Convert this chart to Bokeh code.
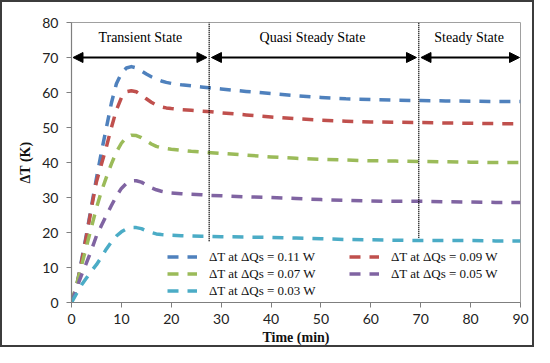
from bokeh.plotting import figure
from bokeh.models import (ColumnDataSource, Legend, LegendItem, Arrow, NormalHead,
                          Range1d, FixedTicker)
from bokeh.core.properties import value
from bokeh.embed import file_html
from bokeh.resources import INLINE

# ---------------- data ----------------
time_min = [0, 1, 2, 3, 4, 5, 6, 7, 8, 9, 10, 11, 12, 13, 14, 15, 16, 17, 18, 19, 20,
            22, 24, 26, 28, 30, 35, 40, 45, 50, 55, 60, 65, 70, 75, 80, 85, 90]

dT_q011 = [0, 4.5, 12, 19.5, 27.5, 35.5, 43, 50, 57, 62.5, 65.5, 67, 67.4, 67, 66.2, 65.3,
           64.5, 63.8, 63.3, 62.9, 62.6, 62.2, 61.9, 61.6, 61.3, 61.0, 60.3, 59.7, 59.1,
           58.6, 58.2, 58.0, 57.8, 57.7, 57.6, 57.5, 57.4, 57.4]
dT_q009 = [0, 4.3, 11.5, 19, 27, 34.5, 39.5, 44.5, 50, 55, 58.5, 60.2, 60.5, 60.2, 59.2,
           58.2, 57.2, 56.4, 55.9, 55.6, 55.4, 55.1, 54.9, 54.7, 54.5, 54.2, 53.6, 53.0,
           52.5, 52.1, 51.8, 51.6, 51.5, 51.4, 51.3, 51.2, 51.1, 51.1]
dT_q007 = [0, 5, 10.5, 16, 21.5, 27, 31.8, 35.8, 39.6, 43, 45.5, 47.2, 47.8, 47.7, 47.1,
           46.2, 45.3, 44.6, 44.2, 44.0, 43.8, 43.5, 43.2, 43.0, 42.8, 42.6, 42.1, 41.6,
           41.2, 40.9, 40.7, 40.5, 40.4, 40.3, 40.2, 40.1, 40.0, 40.0]
dT_q005 = [0, 4, 7.8, 11.3, 15, 19, 22, 24.9, 27.7, 30.4, 32.6, 34, 34.7, 34.8, 34.4, 33.6,
           32.8, 32.2, 31.8, 31.5, 31.3, 31.1, 30.9, 30.8, 30.6, 30.5, 30.2, 30.0, 29.7,
           29.4, 29.2, 29.0, 28.9, 28.9, 28.8, 28.7, 28.6, 28.6]
dT_q003 = [0, 2.5, 5, 7, 9, 10.8, 13, 15.3, 17.3, 19, 20.2, 21, 21.4, 21.4, 21.1, 20.5,
           20.0, 19.6, 19.4, 19.3, 19.2, 19.1, 19.0, 18.9, 18.9, 18.8, 18.7, 18.6, 18.4,
           18.2, 18.0, 17.9, 17.8, 17.7, 17.7, 17.7, 17.6, 17.6]

series_labels = ["ΔT at ΔQs = 0.11 W", "ΔT at ΔQs = 0.09 W", "ΔT at ΔQs = 0.07 W",
                 "ΔT at ΔQs = 0.05 W", "ΔT at ΔQs = 0.03 W"]
series_values = [dT_q011, dT_q009, dT_q007, dT_q005, dT_q003]
series_colors = ["#4f81bd", "#c0504d", "#9bbb59", "#8064a2", "#4bacc6"]

# state regions
region_bounds = [0, 27.6, 69.6, 90]
region_names = ["Transient State", "Quasi Steady State", "Steady State"]
divider_x = [27.6, 69.6]
divider_bottom = [17.5, 18.5]
arrow_level = 70
label_level = 75.7

x_ticks = [0, 10, 20, 30, 40, 50, 60, 70, 80, 90]
y_ticks = [0, 10, 20, 30, 40, 50, 60, 70, 80]

# ---------------- figure ----------------
p = figure(width=534, height=347, output_backend="svg", toolbar_location=None,
           x_range=Range1d(0, 90), y_range=Range1d(0, 80),
           min_border_left=69, min_border_right=16, min_border_top=20, min_border_bottom=47)
p.styles = {"border": "2px solid #3c3c3c", "box-sizing": "border-box"}

p.xgrid.visible = False
p.ygrid.visible = False
p.outline_line_color = "#a0a0a0"
p.outline_line_width = 1
p.background_fill_color = "white"
p.border_fill_color = "white"

for ax, ticks in ((p.xaxis[0], x_ticks), (p.yaxis[0], y_ticks)):
    ax.ticker = FixedTicker(ticks=ticks)
    ax.minor_tick_line_color = None
    ax.major_tick_in = 0
    ax.major_tick_out = 5
    ax.axis_line_color = "#7f7f7f"
    ax.major_tick_line_color = "#7f7f7f"
    ax.axis_line_width = 1.2
    ax.major_label_text_font = "Lato"
    ax.major_label_text_font_size = "14px"
    ax.major_label_text_color = "#222222"
    ax.axis_label_text_font = "Liberation Serif"
    ax.axis_label_text_font_style = "bold"
    ax.axis_label_text_font_size = "14px"
    ax.axis_label_text_color = "#111111"

p.xaxis.axis_label = "Time (min)"
p.yaxis.axis_label = "ΔT (K)"
p.xaxis.major_label_standoff = 6
p.xaxis.axis_label_standoff = 3
p.yaxis.major_label_standoff = 8
p.yaxis.axis_label_standoff = 6

renderers = []
for vals, col in zip(series_values, series_colors):
    src = ColumnDataSource(dict(t=time_min, v=vals))
    r = p.line("t", "v", source=src, line_color=col, line_width=3.5,
               line_dash="11 9", line_cap="butt", line_join="round")
    renderers.append(r)

# dotted dividers
p.segment(x0=divider_x, y0=divider_bottom, x1=divider_x, y1=[80, 80],
          line_color="black", line_width=1.5, line_dash="1 1")

# arrows
gap = 0.45
for i in range(3):
    xs = region_bounds[i] + (0.3 if i == 0 else gap)
    xe = region_bounds[i + 1] - (gap if i < 2 else 0.2)
    p.add_layout(Arrow(x_start=xs, y_start=arrow_level, x_end=xe, y_end=arrow_level,
                       line_color="black", line_width=2,
                       start=NormalHead(size=10, fill_color="black", line_color="black"),
                       end=NormalHead(size=10, fill_color="black", line_color="black")))

label_x = [(region_bounds[i] + region_bounds[i + 1]) / 2 for i in range(3)]
label_x[2] = 79.7
label_x[1] = 48.3
p.text(x=label_x, y=[label_level] * 3, text=region_names,
       text_font=value("Liberation Serif"), text_font_size="14px",
       text_align="center", text_baseline="middle", text_color="black")

# legend
order = [0, 2, 4, 1, 3]
items = [LegendItem(label=series_labels[i], renderers=[renderers[i]]) for i in order]
legend = Legend(items=items, location=(96, 3), nrows=3, orientation="vertical",
                padding=0, margin=0, spacing=0, border_line_color=None,
                background_fill_alpha=0, glyph_width=30, glyph_height=17,
                label_height=17, label_width=140, label_standoff=12,
                label_text_font="Liberation Serif", label_text_font_size="13px",
                label_text_color="#111111")
p.add_layout(legend, "center")

open("out.html", "w").write(file_html(p, INLINE))
